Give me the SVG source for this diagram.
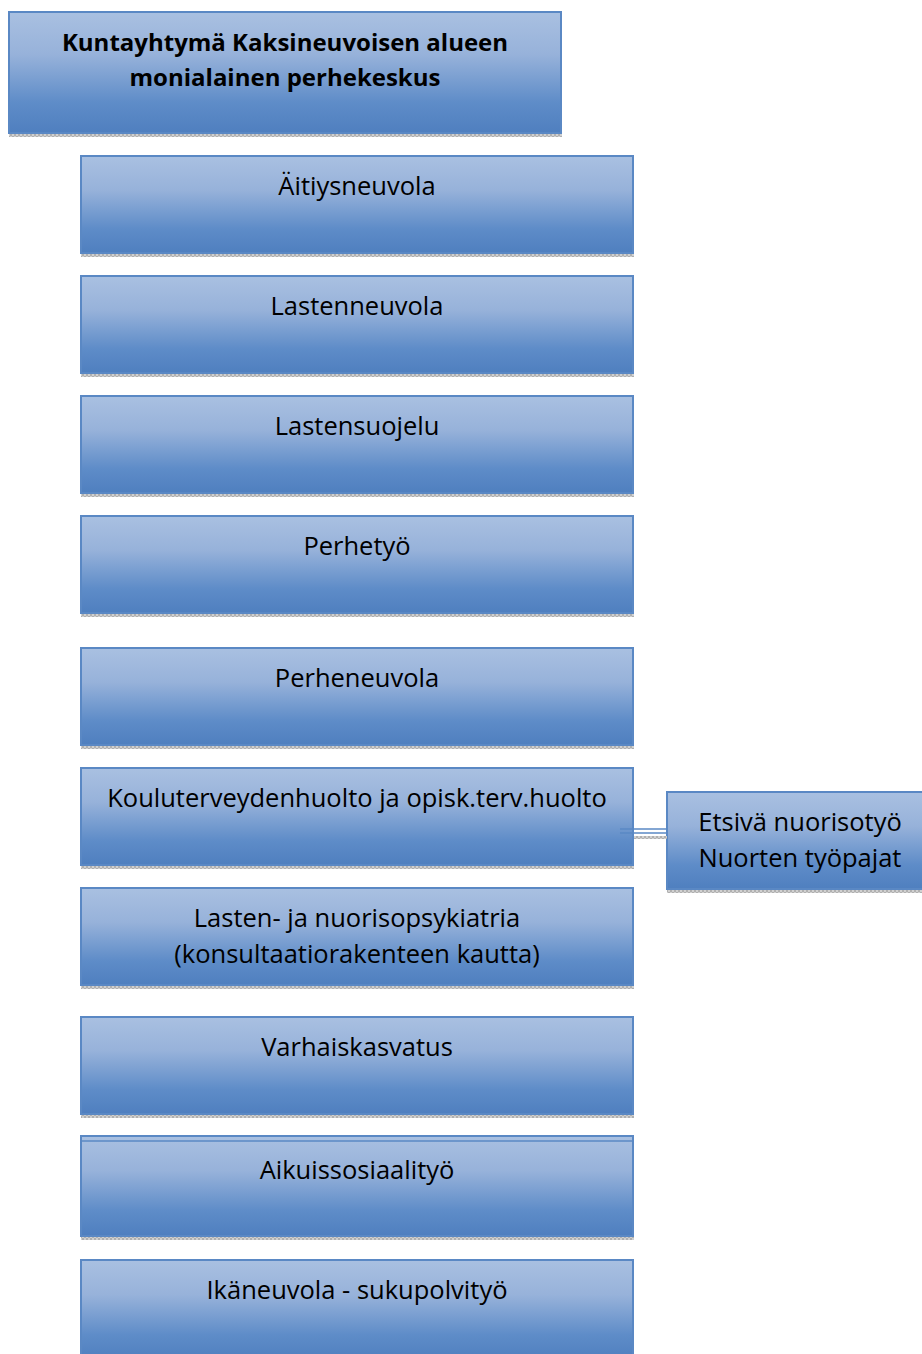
<svg xmlns="http://www.w3.org/2000/svg" width="922" height="1354" viewBox="0 0 922 1354">
<defs>
<linearGradient id="g" x1="0" y1="0" x2="0" y2="1">
<stop offset="0" stop-color="#a9c0e1"/>
<stop offset="0.35" stop-color="#97b2da"/>
<stop offset="0.75" stop-color="#5e8cc8"/>
<stop offset="1" stop-color="#4f7fbf"/>
</linearGradient>
<pattern id="sh" width="4" height="4" patternUnits="userSpaceOnUse">
<rect width="4" height="4" fill="#d0d0d0"/>
<rect width="2" height="2" fill="#b0b0b0"/>
<rect x="2" y="2" width="2" height="2" fill="#b0b0b0"/>
</pattern>
</defs>
<style>
.box{fill:url(#g);stroke:#5a88c4;stroke-width:2}
.shd{fill:url(#sh)}
.t{font-family:"Open Sans","Liberation Sans",sans-serif;font-size:25.5px;fill:#000;text-anchor:middle}
.tb{font-family:"Open Sans","Liberation Sans",sans-serif;font-size:24px;font-weight:bold;fill:#000;text-anchor:middle}
.c{stroke:#5a88c4;stroke-width:1.5;fill:none}
</style>
<rect width="922" height="1354" fill="#fff"/>
<g id="title">
<rect class="shd" x="9" y="133" width="553" height="4"/>
<rect class="box" x="9" y="12" width="552" height="121"/>
<text class="tb" x="285" y="51">Kuntayhtymä Kaksineuvoisen alueen</text>
<text class="tb" x="285" y="86">monialainen perhekeskus</text>
</g>
<g id="n1">
<rect class="shd" x="81" y="253" width="553" height="4"/>
<rect class="box" x="81" y="156" width="552" height="97"/>
<text class="t" x="357" y="195">Äitiysneuvola</text>
</g>
<g id="n2">
<rect class="shd" x="81" y="373" width="553" height="4"/>
<rect class="box" x="81" y="276" width="552" height="97"/>
<text class="t" x="357" y="315">Lastenneuvola</text>
</g>
<g id="n3">
<rect class="shd" x="81" y="493" width="553" height="4"/>
<rect class="box" x="81" y="396" width="552" height="97"/>
<text class="t" x="357" y="435">Lastensuojelu</text>
</g>
<g id="n4">
<rect class="shd" x="81" y="613" width="553" height="4"/>
<rect class="box" x="81" y="516" width="552" height="97"/>
<text class="t" x="357" y="555">Perhetyö</text>
</g>
<g id="n5">
<rect class="shd" x="81" y="745" width="553" height="4"/>
<rect class="box" x="81" y="648" width="552" height="97"/>
<text class="t" x="357" y="687">Perheneuvola</text>
</g>
<g id="n6">
<rect class="shd" x="81" y="865" width="553" height="4"/>
<rect class="box" x="81" y="768" width="552" height="97"/>
<text class="t" x="357" y="807">Kouluterveydenhuolto ja opisk.terv.huolto</text>
</g>
<g id="n6b">
<rect class="shd" x="667" y="889" width="255" height="4"/>
<rect class="box" x="667" y="792" width="262" height="97"/>
<text class="t" x="800" y="831">Etsivä nuorisotyö</text>
<text class="t" x="800" y="867">Nuorten työpajat</text>
</g>
<g id="n7">
<rect class="shd" x="81" y="985" width="553" height="4"/>
<rect class="box" x="81" y="888" width="552" height="97"/>
<text class="t" x="357" y="927">Lasten- ja nuorisopsykiatria</text>
<text class="t" x="357" y="963">(konsultaatiorakenteen kautta)</text>
</g>
<g id="n8">
<rect class="shd" x="81" y="1114" width="553" height="4"/>
<rect class="box" x="81" y="1017" width="552" height="97"/>
<text class="t" x="357" y="1056">Varhaiskasvatus</text>
</g>
<g id="n9">
<rect class="shd" x="81" y="1236" width="553" height="4"/>
<rect class="box" x="81" y="1136" width="552" height="100"/>
<line x1="81" y1="1141" x2="633" y2="1141" stroke="#5a88c4" stroke-width="1.5"/>
<text class="t" x="357" y="1179">Aikuissosiaalityö</text>
</g>
<g id="n10">
<rect class="box" x="81" y="1260" width="552" height="100"/>
<text class="t" x="357" y="1299">Ikäneuvola - sukupolvityö</text>
</g>
<g id="connectors">
<line class="c" x1="620" y1="829" x2="667" y2="829"/>
<line class="c" x1="620" y1="833" x2="667" y2="833"/>
<rect class="shd" x="634" y="836" width="33" height="3"/>
</g>
</svg>
